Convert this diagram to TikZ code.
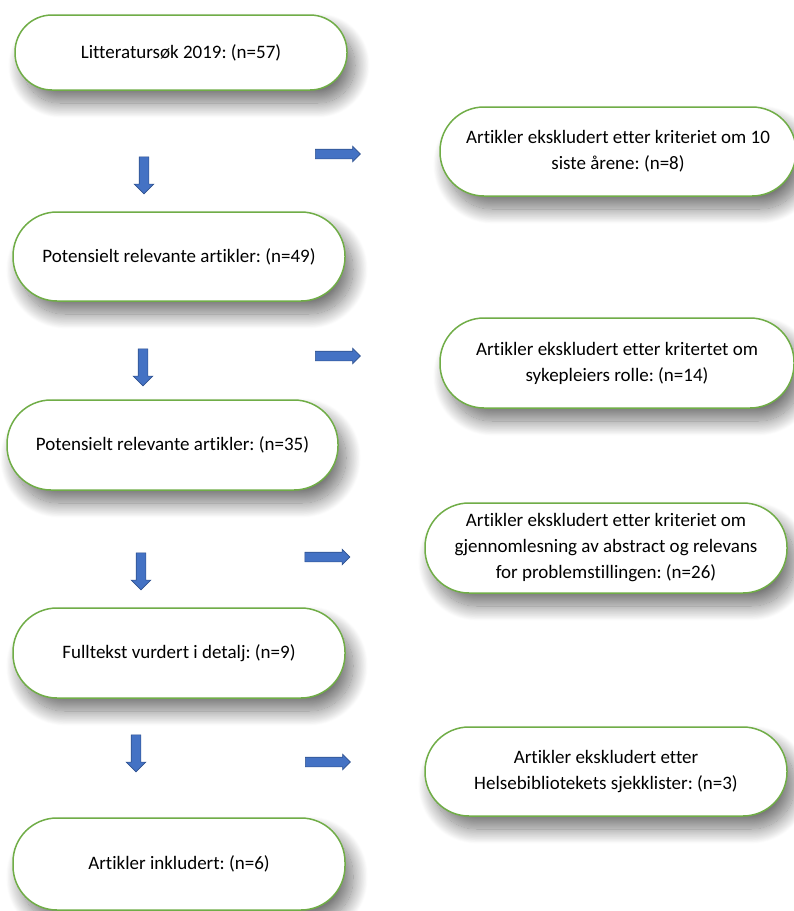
\documentclass[tikz,border=0pt]{standalone}
\usepackage{fontspec}
\setmainfont[Ligatures={NoCommon}]{Carlito}
\usetikzlibrary{shapes.arrows,shadows.blur}

\definecolor{termgreen}{HTML}{70AD47}
\definecolor{arrowblue}{HTML}{4472C4}
\definecolor{arrowline}{HTML}{2F528F}

\tikzset{
  term/.style={draw=termgreen, line width=1.5pt, fill=white, rounded corners=44pt,
    minimum width=332pt, minimum height=89pt, align=center, text=black,
    font=\fontsize{19}{26}\selectfont\frenchspacing,
    blur shadow={shadow xshift=8pt, shadow yshift=-13pt, shadow blur radius=15pt,
      shadow blur steps=24, shadow opacity=55}},
  blockarrow/.style={single arrow, draw=arrowline, fill=arrowblue, line width=0.6pt, inner sep=4.5pt},
  nedpil/.style={blockarrow, shape border rotate=270, minimum height=37pt,
    single arrow head extend=5pt},
  sidepil/.style={blockarrow, minimum height=45pt, single arrow head extend=3pt}
}

\begin{document}
\begin{tikzpicture}[x=1pt,y=-1pt]
  \useasboundingbox (0,0) rectangle (794,911);
  %left column
  \node[term, minimum height=75pt, rounded corners=37pt] (lit) at (181,52.5) {Litteratursøk 2019: (n=57)};
  \node[term] (pot1) at (179,256.5) {Potensielt relevante artikler: (n=49)};
  \node[term, minimum width=331pt, minimum height=90pt] (pot2) at (172.5,445) {Potensielt relevante artikler: (n=35)};
  \node[term, minimum height=90pt] (full) at (179,653) {Fulltekst vurdert i detalj: (n=9)};
  \node[term, minimum height=92pt] (incl) at (179,864) {Artikler inkludert: (n=6)};
  %right column
  \node[term, minimum width=356pt] (ex1) at (618,151.5)
    {Artikler ekskludert etter kriteriet om 10\\ siste årene: (n=8)};
  \node[term, minimum width=354pt, minimum height=90pt] (ex2) at (617,363)
    {Artikler ekskludert etter kritertet om\\ sykepleiers rolle: (n=14)};
  \node[term, minimum width=362pt, minimum height=90pt] (ex3) at (606,548)
    {Artikler ekskludert etter kriteriet om\\ gjennomlesning av abstract og relevans\\ for problemstillingen: (n=26)};
  \node[term, minimum width=362pt] (ex4) at (606,771.5)
    {Artikler ekskludert etter\\ Helsebibliotekets sjekklister: (n=3)};
  %block arrows
  \node[nedpil] (ned1) at (144,173) {};
  \node[nedpil] (ned2) at (143,365) {};
  \node[nedpil] (ned3) at (141,569) {};
  \node[nedpil] (ned4) at (136,751) {};
  \node[sidepil] (side1) at (335.5,154) {};
  \node[sidepil] (side2) at (335.5,356) {};
  \node[sidepil] (side3) at (325,557) {};
  \node[sidepil] (side4) at (325.5,762) {};
\end{tikzpicture}
\end{document}
